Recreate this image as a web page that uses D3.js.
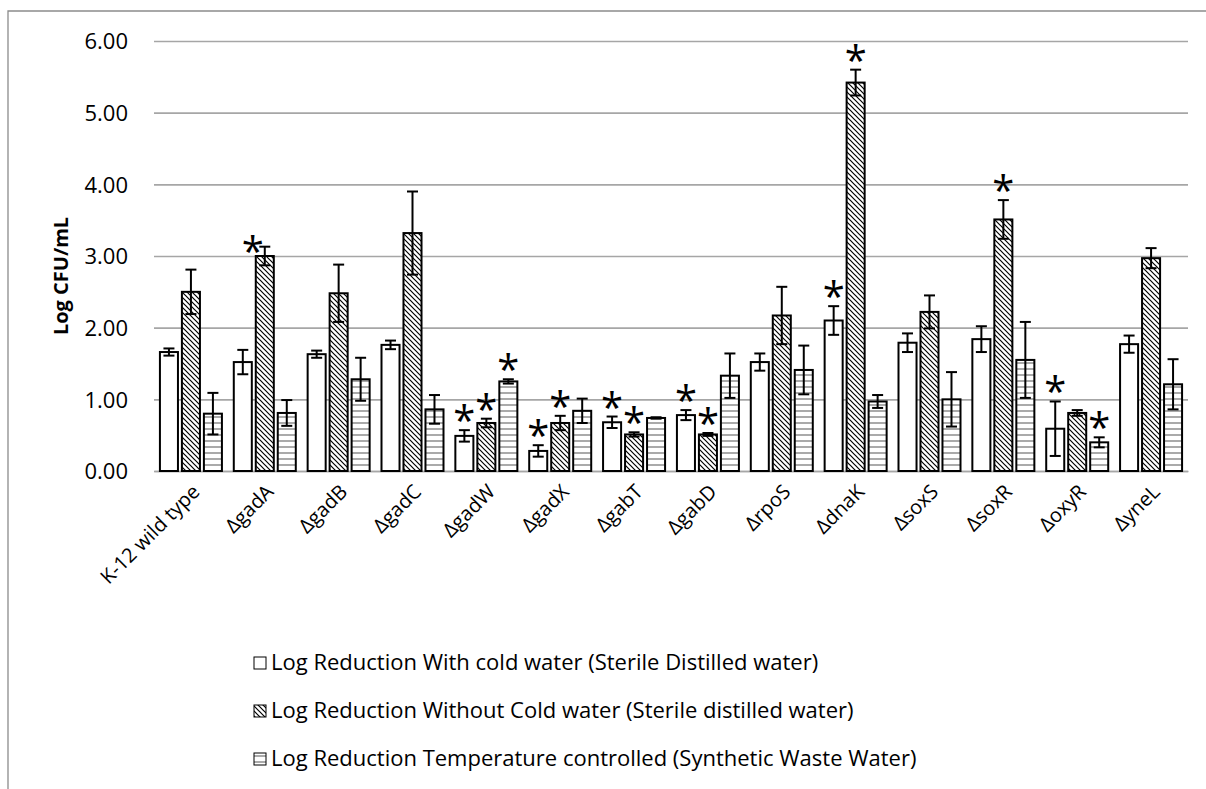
<!DOCTYPE html>
<html>
<head>
<meta charset="utf-8">
<script src="https://cdn.jsdelivr.net/npm/d3@7"></script>
<style>
  html, body { margin: 0; padding: 0; background: #fff; }
  svg { display: block; }
  text { font-family: "Open Sans", Lato, sans-serif; fill: #000; }
</style>
</head>
<body>
<svg id="chart" width="1206" height="789"></svg>
<script>
// Strains tested
const categories = ["K-12 wild type", "\u0394gadA", "\u0394gadB", "\u0394gadC", "\u0394gadW", "\u0394gadX",
  "\u0394gabT", "\u0394gabD", "\u0394rpoS", "\u0394dnaK", "\u0394soxS", "\u0394soxR", "\u0394oxyR", "\u0394yneL"];

const seriesNames = [
  "Log Reduction With cold water (Sterile Distilled water)",
  "Log Reduction Without Cold water (Sterile distilled water)",
  "Log Reduction Temperature controlled (Synthetic Waste Water)"
];

// Mean log reductions per strain
const coldWater    = [1.66, 1.52, 1.63, 1.76, 0.49, 0.28, 0.68, 0.78, 1.52, 2.10, 1.79, 1.84, 0.59, 1.77];
const noColdWater  = [2.50, 3.00, 2.48, 3.32, 0.67, 0.67, 0.51, 0.51, 2.17, 5.42, 2.22, 3.51, 0.81, 2.97];
const wasteWater   = [0.80, 0.81, 1.28, 0.86, 1.25, 0.84, 0.74, 1.33, 1.41, 0.97, 1.00, 1.55, 0.40, 1.21];

// Standard deviations (error bars)
const coldWaterErr   = [0.05, 0.17, 0.05, 0.06, 0.08, 0.08, 0.08, 0.07, 0.12, 0.20, 0.13, 0.18, 0.38, 0.12];
const noColdWaterErr = [0.31, 0.13, 0.40, 0.58, 0.06, 0.10, 0.03, 0.02, 0.40, 0.18, 0.23, 0.27, 0.04, 0.14];
const wasteWaterErr  = [0.29, 0.18, 0.30, 0.20, 0.03, 0.17, 0.01, 0.31, 0.34, 0.09, 0.38, 0.53, 0.07, 0.35];

// Significance flags (1 = marked with an asterisk)
const coldWaterSig   = [0, 0, 0, 0, 1, 1, 1, 1, 0, 1, 0, 0, 1, 0];
const noColdWaterSig = [0, 1, 0, 0, 1, 1, 1, 1, 0, 1, 0, 1, 0, 0];
const wasteWaterSig  = [0, 0, 0, 0, 1, 0, 0, 0, 0, 0, 0, 0, 1, 0];

const yTicks = [0, 1, 2, 3, 4, 5, 6];

const values = [coldWater, noColdWater, wasteWater];
const errors = [coldWaterErr, noColdWaterErr, wasteWaterErr];
const sigs   = [coldWaterSig, noColdWaterSig, wasteWaterSig];
const fills  = ["#ffffff", "url(#diag)", "url(#horiz)"];

const svg = d3.select("#chart");

// Fill patterns
const defs = svg.append("defs");
const diag = defs.append("pattern").attr("id", "diag").attr("patternUnits", "userSpaceOnUse")
  .attr("width", 5).attr("height", 5);
diag.append("rect").attr("width", 5).attr("height", 5).attr("fill", "#fff");
diag.append("path").attr("d", "M0,0L5,5M-1,4L1,6M4,-1L6,1")
  .attr("stroke", "#000").attr("stroke-width", 1.2);

const horiz = defs.append("pattern").attr("id", "horiz").attr("patternUnits", "userSpaceOnUse")
  .attr("width", 6).attr("height", 6);
horiz.append("rect").attr("width", 6).attr("height", 6).attr("fill", "#fff");
horiz.append("line").attr("x1", 0).attr("x2", 6).attr("y1", 3).attr("y2", 3)
  .attr("stroke", "#555").attr("stroke-width", 1);

// Outer frame (top and left edges)
svg.append("path").attr("d", "M8,789V11H1206").attr("fill", "none")
  .attr("stroke", "#8c8c8c").attr("stroke-width", 1.3);

const plot = { left: 154, right: 1188, top: 41, bottom: 471 };

const x = d3.scaleBand().domain(categories).range([plot.left, plot.right]).padding(0);
const groupW = 62;
const x1 = d3.scaleBand().domain([0, 1, 2])
  .range([x.bandwidth() / 2 - groupW / 2, x.bandwidth() / 2 + groupW / 2]).paddingInner(0.18);
const y = d3.scaleLinear().domain([0, 6]).range([plot.bottom, plot.top]);

// Gridlines and value labels
const yAxis = d3.axisLeft(y).tickValues(yTicks).tickFormat(d3.format(".2f"))
  .tickSize(-(plot.right - plot.left)).tickPadding(26);
const gy = svg.append("g").attr("transform", `translate(${plot.left},0)`).call(yAxis);
gy.select(".domain").remove();
gy.selectAll(".tick line").attr("stroke", "#a6a6a6").attr("stroke-width", 1.6);
gy.selectAll(".tick text").attr("font-size", 22).attr("font-family", "'Open Sans', sans-serif")
  .attr("fill", "#000").attr("dy", "0.36em");

// Category axis
const xAxis = d3.axisBottom(x).tickSize(0).tickPadding(0);
const gx = svg.append("g").attr("transform", `translate(0,${plot.bottom})`).call(xAxis);
gx.select(".domain").attr("stroke", "#a6a6a6").attr("stroke-width", 1.6);
gx.selectAll(".tick text")
  .attr("font-size", 20).attr("font-family", "'Open Sans', sans-serif").attr("fill", "#000")
  .attr("text-anchor", "end")
  .attr("dy", null).attr("y", 0)
  .attr("transform", "translate(10,22) rotate(-45)");

// Y axis title
svg.append("text").attr("transform", `translate(68,${(plot.top + plot.bottom) / 2 + 20}) rotate(-90)`)
  .attr("text-anchor", "middle").attr("font-size", 20).attr("font-weight", "bold")
  .text("Log CFU/mL");

// Bars, error bars and significance marks
const starNudge = { "1-1": [-12, 14] };

values.forEach((vals, s) => {
  const cells = categories.map((c, i) => ({ c, i, v: vals[i], e: errors[s][i], sig: sigs[s][i] }));
  const g = svg.append("g");
  g.selectAll("rect").data(cells).join("rect")
    .attr("x", d => x(d.c) + x1(s))
    .attr("y", d => y(d.v))
    .attr("width", x1.bandwidth())
    .attr("height", d => y(0) - y(d.v))
    .attr("fill", fills[s]).attr("stroke", "#000").attr("stroke-width", 2);

  const eb = g.selectAll("g.err").data(cells).join("g").attr("class", "err")
    .attr("transform", d => `translate(${x(d.c) + x1(s) + x1.bandwidth() / 2},0)`);
  eb.append("line").attr("y1", d => y(d.v + d.e)).attr("y2", d => y(d.v - d.e))
    .attr("stroke", "#000").attr("stroke-width", 2);
  eb.append("line").attr("x1", -5.5).attr("x2", 5.5).attr("y1", d => y(d.v + d.e)).attr("y2", d => y(d.v + d.e))
    .attr("stroke", "#000").attr("stroke-width", 2);
  eb.append("line").attr("x1", -5.5).attr("x2", 5.5).attr("y1", d => y(d.v - d.e)).attr("y2", d => y(d.v - d.e))
    .attr("stroke", "#000").attr("stroke-width", 2);

  eb.filter(d => d.sig).append("text")
    .attr("x", d => (starNudge[`${d.i}-${s}`] || [0, 0])[0])
    .attr("y", d => y(d.v + d.e) + 5 + (starNudge[`${d.i}-${s}`] || [0, 0])[1])
    .attr("text-anchor", "middle").attr("font-size", 40)
    .text("*");
});

// Legend
const legend = svg.append("g").attr("transform", "translate(254,663)");
seriesNames.forEach((name, s) => {
  const row = legend.append("g").attr("transform", `translate(0,${s * 48})`);
  row.append("rect").attr("x", 0).attr("y", -6).attr("width", 12).attr("height", 12)
    .attr("fill", fills[s]).attr("stroke", "#000").attr("stroke-width", 1);
  row.append("text").attr("x", 17).attr("y", 7).attr("font-size", 22).text(name);
});
</script>
</body>
</html>
